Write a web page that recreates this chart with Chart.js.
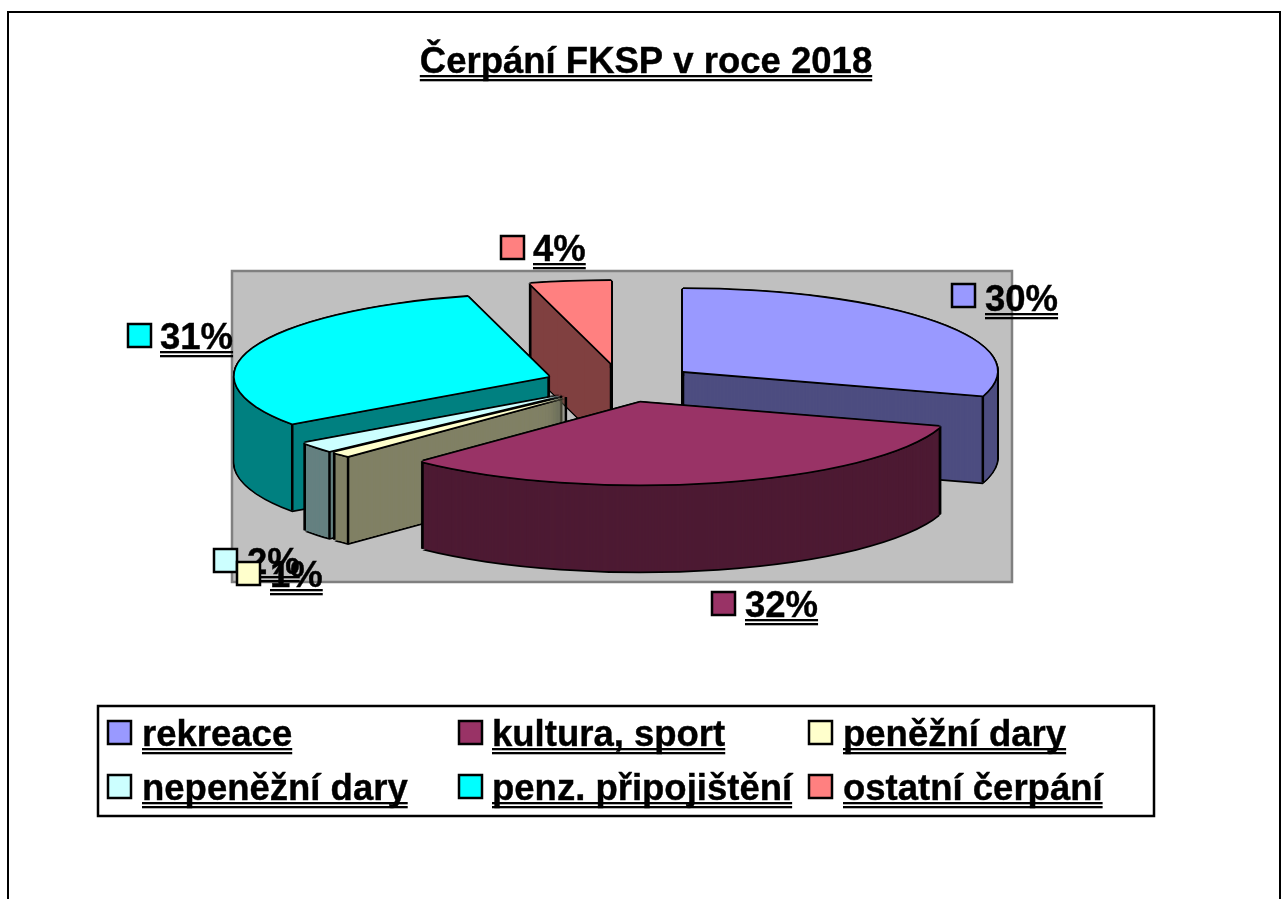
<!DOCTYPE html>
<html>
<head>
<meta charset="utf-8">
<title>Čerpání FKSP v roce 2018</title>
<script src="https://cdn.jsdelivr.net/npm/chart.js@4"></script>
<style>
  html, body { margin: 0; padding: 0; background: #fff; overflow: hidden; }
  canvas { display: block; }
</style>
</head>
<body>
<canvas id="myChart" width="1288" height="899"></canvas>
<script>
const chartTitle = "Čerpání FKSP v roce 2018"
const categories = ["rekreace", "kultura, sport", "peněžní dary", "nepeněžní dary", "penz. připojištění", "ostatní čerpání"]
// labels are whole percents, decimals estimated from where the slice edges fall
const shares = [29.8, 32.4, 1, 2, 30.66, 4.14]
const topColors = ["#9999FF", "#993366", "#FFFFCC", "#CCFFFF", "#00FFFF", "#FF8080"]
const wallColors = ["#4D4D80", "#4D1A33", "#808066", "#668080", "#008080", "#804040"]

// where the pie sits on the page, it is a flat circle in chart.js so we squash it
const pieX = 621
const pieY = 383
const pieRx = 314
const pieRy = 82
const pieDepth = 87
const explode = 77 // slices pulled out from the centre, in page px along x

const font = 'bold 36.5px "Liberation Sans", Arial, sans-serif'

// swatch top left + text left + baseline for each percent label, same order as categories
const labelSpots = [
  [952, 284, 985, 311],
  [712, 592, 745, 617],
  [237, 562, 270, 587],
  [214, 549, 247, 574],
  [128, 324, 160, 349],
  [501, 236, 533, 261]
]
// 2% goes under 1% in the picture, so it is painted first
const labelOrder = [0, 1, 3, 2, 4, 5]

const legendCols = [[108, 142], [459, 492], [809, 843]]
const legendRows = [[721, 746], [775, 800]]

function underlined(ctx, text, x, y) {
  ctx.font = font
  ctx.fillStyle = "#000"
  ctx.strokeStyle = "#000"
  ctx.lineWidth = 0.4
  ctx.textAlign = "left"
  ctx.textBaseline = "alphabetic"
  ctx.fillText(text, x, y)
  ctx.strokeText(text, x, y)
  const w = ctx.measureText(text).width
  ctx.fillRect(x, y + 2, w, 2.3)
  ctx.fillRect(x, y + 6, w, 2.3)
}

function swatch(ctx, x, y, color) {
  ctx.fillStyle = color
  ctx.strokeStyle = "#000"
  ctx.lineWidth = 2.5
  ctx.fillRect(x, y, 23, 23)
  ctx.strokeRect(x, y, 23, 23)
}

function midAngle(arc) {
  return (arc.startAngle + arc.endAngle) / 2
}

// page position of the exploded centre of a slice
function sliceCentre(arc) {
  const mid = midAngle(arc)
  return {
    x: pieX + Math.cos(mid) * explode,
    y: pieY + Math.sin(mid) * explode * pieRy / pieRx
  }
}

// one copy of a slice, squashed and moved, painted by the arc element itself
function paintArc(ctx, arc, color, dx, dy) {
  const c = sliceCentre(arc)
  const keep = arc.options
  arc.options = Object.assign({}, keep, { backgroundColor: color, borderWidth: 0 })
  ctx.save()
  ctx.translate(c.x + dx, c.y + dy)
  ctx.scale(pieRx / arc.outerRadius, pieRy / arc.outerRadius)
  ctx.translate(-arc.x, -arc.y)
  arc.draw(ctx)
  ctx.restore()
  arc.options = keep
}

function cornerLine(ctx, arc, angle, outer) {
  const c = sliceCentre(arc)
  const x = c.x + (outer ? Math.cos(angle) * pieRx : 0)
  const y = c.y + (outer ? Math.sin(angle) * pieRy : 0)
  ctx.beginPath()
  ctx.moveTo(x, y)
  ctx.lineTo(x, y + pieDepth)
  ctx.stroke()
}

function paintSlice(ctx, arc, index) {
  const edge = 1.8

  // black outline first, then the wall on top of it
  for (let z = pieDepth; z >= 0; z--) {
    paintArc(ctx, arc, "#000", -edge, z)
    paintArc(ctx, arc, "#000", edge, z)
  }
  paintArc(ctx, arc, "#000", 0, pieDepth + edge)
  // thin slices need small steps or they get stripes near the apex,
  // big ones get banding from small steps
  const step = arc.endAngle - arc.startAngle < 0.3 ? 0.2 : 1
  for (let z = pieDepth; z >= 0; z -= step) {
    paintArc(ctx, arc, wallColors[index], 0, z)
  }

  ctx.strokeStyle = "#000"
  ctx.lineWidth = 2.5
  cornerLine(ctx, arc, arc.startAngle, true)
  cornerLine(ctx, arc, arc.endAngle, true)
  // a slice that faces us hides its own apex line under the top
  const facesUs = arc.startAngle < Math.PI / 2 && arc.endAngle > Math.PI / 2
  if (!facesUs) {
    cornerLine(ctx, arc, 0, false)
  }

  const around = [[-edge, 0], [edge, 0], [0, -edge], [0, edge], [-1.2, -1.2], [1.2, -1.2], [-1.2, 1.2], [1.2, 1.2]]
  around.forEach(function (o) {
    paintArc(ctx, arc, "#000", o[0], o[1])
  })
  paintArc(ctx, arc, topColors[index], 0, 0)
}

const frame3d = {
  id: "frame3d",
  beforeDatasetsDraw(chart) {
    const ctx = chart.ctx
    ctx.save()

    // outer frame, bottom edge runs off the page
    ctx.strokeStyle = "#000"
    ctx.lineWidth = 2
    ctx.strokeRect(8, 12, 1272, 900)

    // grey plot area
    ctx.fillStyle = "#C0C0C0"
    ctx.strokeStyle = "#808080"
    ctx.lineWidth = 2.5
    ctx.fillRect(232, 271, 780, 311)
    ctx.strokeRect(232, 271, 780, 311)

    // back slices first
    const arcs = chart.getDatasetMeta(0).data.map(function (arc, i) {
      return { arc: arc, index: i, depth: Math.sin(midAngle(arc)) }
    })
    arcs.sort(function (a, b) { return a.depth - b.depth })
    arcs.forEach(function (a) {
      paintSlice(ctx, a.arc, a.index)
    })

    ctx.restore()
    return false
  },
  afterDraw(chart) {
    const ctx = chart.ctx
    ctx.save()

    ctx.font = font
    const w = ctx.measureText(chartTitle).width
    underlined(ctx, chartTitle, 646 - w / 2, 73)

    labelOrder.forEach(function (i) {
      const s = labelSpots[i]
      swatch(ctx, s[0], s[1], topColors[i])
      underlined(ctx, Math.round(shares[i]) + "%", s[2], s[3])
    })

    ctx.strokeStyle = "#000"
    ctx.lineWidth = 2.5
    ctx.strokeRect(98, 706, 1056, 110)
    categories.forEach(function (name, i) {
      const col = legendCols[i % 3]
      const row = legendRows[Math.floor(i / 3)]
      swatch(ctx, col[0], row[0], topColors[i])
      underlined(ctx, name, col[1], row[1])
    })

    ctx.restore()
  }
}

new Chart(document.getElementById("myChart"), {
  type: "pie",
  data: {
    labels: categories,
    datasets: [{
      data: shares,
      backgroundColor: topColors,
      borderWidth: 0
    }]
  },
  options: {
    responsive: false,
    animation: false,
    plugins: {
      legend: { display: false },
      tooltip: { enabled: false },
      title: { display: false }
    }
  },
  plugins: [frame3d]
})
</script>
</body>
</html>
